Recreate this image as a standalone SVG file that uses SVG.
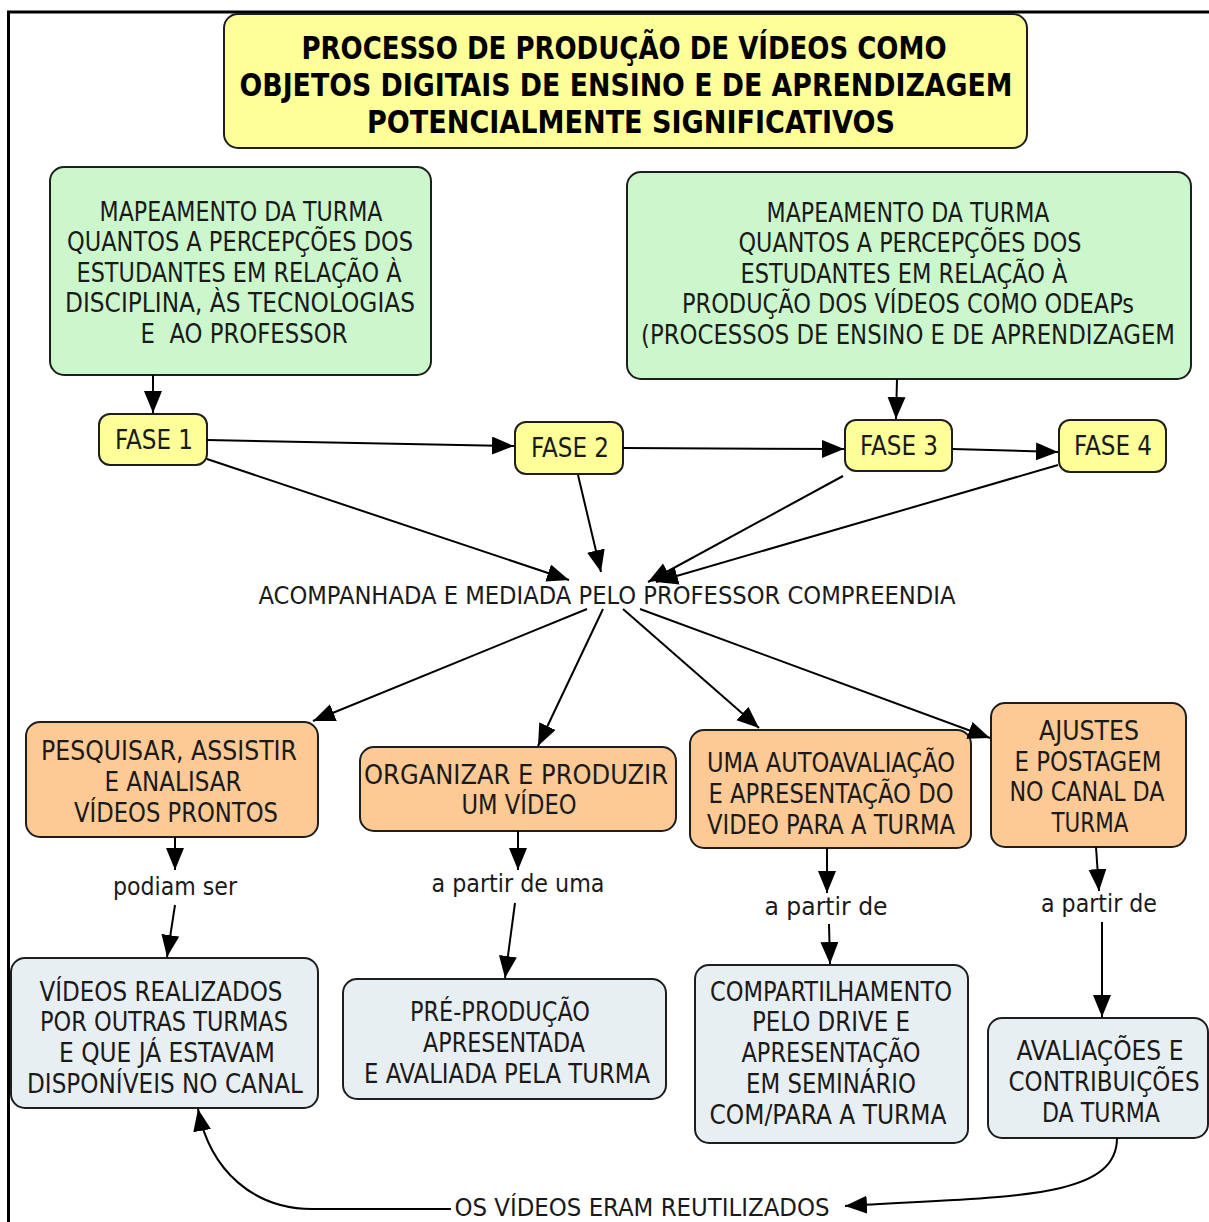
<svg xmlns="http://www.w3.org/2000/svg" width="1209" height="1222" viewBox="0 0 1209 1222">
<style>
  .box { stroke: #1e1e1e; stroke-width: 2; }
  .title { fill: #ffff99; }
  .green { fill: #ccf7cc; }
  .fase { fill: #ffff99; }
  .orange { fill: #fdc994; }
  .blue { fill: #e8eff2; }
  text { font-family: "DejaVu Sans Condensed", "DejaVu Sans", Verdana, sans-serif; fill: #1a1a1a; text-anchor: middle; }
  .t { font-size: 32px; font-weight: bold; fill: #000; }
  .n { font-size: 27px; }
  .f { font-size: 26px; }
  .l { font-size: 24px; }
  .c { stroke: #000; stroke-width: 2; fill: none; }
</style>
<defs>
  <marker id="arr" markerUnits="userSpaceOnUse" markerWidth="24" markerHeight="20" refX="22" refY="9" orient="auto">
    <path d="M0,0 L22,9 L0,18 z" fill="#000"/>
  </marker>
</defs>
<rect width="1209" height="1222" fill="#fff"/>
<path d="M8.5,1222 L8.5,12 L1209,12" fill="none" stroke="#000" stroke-width="3"/>

<g id="title">
  <rect class="box title" x="224" y="14" width="803" height="134" rx="14"/>
  <text class="t" x="624" y="59" textLength="645" lengthAdjust="spacingAndGlyphs">PROCESSO DE PRODUÇÃO DE VÍDEOS COMO</text>
  <text class="t" x="626" y="96" textLength="773" lengthAdjust="spacingAndGlyphs">OBJETOS DIGITAIS DE ENSINO E DE APRENDIZAGEM</text>
  <text class="t" x="631" y="133" textLength="528" lengthAdjust="spacingAndGlyphs">POTENCIALMENTE SIGNIFICATIVOS</text>
</g>

<g id="map1">
  <rect class="box green" x="50" y="167" width="381" height="208" rx="14"/>
  <text class="n" x="241" y="221" textLength="283" lengthAdjust="spacingAndGlyphs">MAPEAMENTO DA TURMA</text>
  <text class="n" x="240" y="251" textLength="346" lengthAdjust="spacingAndGlyphs">QUANTOS A PERCEPÇÕES DOS</text>
  <text class="n" x="239" y="282" textLength="325" lengthAdjust="spacingAndGlyphs">ESTUDANTES EM RELAÇÃO À</text>
  <text class="n" x="240" y="312" textLength="350" lengthAdjust="spacingAndGlyphs">DISCIPLINA, ÀS TECNOLOGIAS</text>
  <text class="n" x="244" y="343" textLength="207" lengthAdjust="spacingAndGlyphs" xml:space="preserve">E  AO PROFESSOR</text>
</g>

<g id="map2">
  <rect class="box green" x="627" y="172" width="564" height="207" rx="14"/>
  <text class="n" x="908" y="222" textLength="283" lengthAdjust="spacingAndGlyphs">MAPEAMENTO DA TURMA</text>
  <text class="n" x="910" y="252" textLength="343" lengthAdjust="spacingAndGlyphs">QUANTOS A PERCEPÇÕES DOS</text>
  <text class="n" x="904" y="283" textLength="327" lengthAdjust="spacingAndGlyphs">ESTUDANTES EM RELAÇÃO À</text>
  <text class="n" x="908" y="313" textLength="452" lengthAdjust="spacingAndGlyphs">PRODUÇÃO DOS VÍDEOS COMO ODEAPs</text>
  <text class="n" x="908" y="344" textLength="534" lengthAdjust="spacingAndGlyphs">(PROCESSOS DE ENSINO E DE APRENDIZAGEM</text>
</g>

<g id="fase1">
  <rect class="box fase" x="99" y="414" width="108" height="51" rx="11"/>
  <text class="f" x="154" y="449" textLength="78" lengthAdjust="spacingAndGlyphs">FASE 1</text>
</g>
<g id="fase2">
  <rect class="box fase" x="515" y="422" width="108" height="52" rx="11"/>
  <text class="f" x="570" y="457" textLength="78" lengthAdjust="spacingAndGlyphs">FASE 2</text>
</g>
<g id="fase3">
  <rect class="box fase" x="845" y="420" width="107" height="51" rx="11"/>
  <text class="f" x="899" y="455" textLength="78" lengthAdjust="spacingAndGlyphs">FASE 3</text>
</g>
<g id="fase4">
  <rect class="box fase" x="1059" y="420" width="107" height="52" rx="11"/>
  <text class="f" x="1113" y="455" textLength="78" lengthAdjust="spacingAndGlyphs">FASE 4</text>
</g>

<g id="center">
  <text class="l" x="607" y="604" textLength="697" lengthAdjust="spacingAndGlyphs">ACOMPANHADA E MEDIADA PELO PROFESSOR COMPREENDIA</text>
</g>

<g id="pesquisar">
  <rect class="box orange" x="26" y="722" width="292" height="115" rx="14"/>
  <text class="n" x="169" y="760" textLength="256" lengthAdjust="spacingAndGlyphs">PESQUISAR, ASSISTIR</text>
  <text class="n" x="173" y="791" textLength="137" lengthAdjust="spacingAndGlyphs">E ANALISAR</text>
  <text class="n" x="176" y="822" textLength="204" lengthAdjust="spacingAndGlyphs">VÍDEOS PRONTOS</text>
</g>

<g id="organizar">
  <rect class="box orange" x="360" y="747" width="316" height="84" rx="14"/>
  <text class="n" x="516" y="784" textLength="304" lengthAdjust="spacingAndGlyphs">ORGANIZAR E PRODUZIR</text>
  <text class="n" x="519" y="814" textLength="115" lengthAdjust="spacingAndGlyphs">UM VÍDEO</text>
</g>

<g id="autoavaliacao">
  <rect class="box orange" x="690" y="730" width="281" height="118" rx="14"/>
  <text class="n" x="831" y="772" textLength="248" lengthAdjust="spacingAndGlyphs">UMA AUTOAVALIAÇÃO</text>
  <text class="n" x="831" y="803" textLength="245" lengthAdjust="spacingAndGlyphs">E APRESENTAÇÃO DO</text>
  <text class="n" x="831" y="834" textLength="248" lengthAdjust="spacingAndGlyphs">VIDEO PARA A TURMA</text>
</g>

<g id="ajustes">
  <rect class="box orange" x="991" y="703" width="195" height="144" rx="14"/>
  <text class="n" x="1089" y="740" textLength="100" lengthAdjust="spacingAndGlyphs">AJUSTES</text>
  <text class="n" x="1088" y="771" textLength="147" lengthAdjust="spacingAndGlyphs">E POSTAGEM</text>
  <text class="n" x="1087" y="801" textLength="155" lengthAdjust="spacingAndGlyphs">NO CANAL DA</text>
  <text class="n" x="1090" y="832" textLength="77" lengthAdjust="spacingAndGlyphs">TURMA</text>
</g>

<g id="videos-realizados">
  <rect class="box blue" x="11" y="958" width="307" height="150" rx="14"/>
  <text class="n" x="161" y="1001" textLength="243" lengthAdjust="spacingAndGlyphs">VÍDEOS REALIZADOS</text>
  <text class="n" x="164" y="1031" textLength="248" lengthAdjust="spacingAndGlyphs">POR OUTRAS TURMAS</text>
  <text class="n" x="167" y="1062" textLength="216" lengthAdjust="spacingAndGlyphs">E QUE JÁ ESTAVAM</text>
  <text class="n" x="165" y="1093" textLength="276" lengthAdjust="spacingAndGlyphs">DISPONÍVEIS NO CANAL</text>
</g>

<g id="pre-producao">
  <rect class="box blue" x="343" y="979" width="323" height="120" rx="14"/>
  <text class="n" x="500" y="1021" textLength="180" lengthAdjust="spacingAndGlyphs">PRÉ-PRODUÇÃO</text>
  <text class="n" x="504" y="1052" textLength="162" lengthAdjust="spacingAndGlyphs">APRESENTADA</text>
  <text class="n" x="507" y="1083" textLength="286" lengthAdjust="spacingAndGlyphs">E AVALIADA PELA TURMA</text>
</g>

<g id="compartilhamento">
  <rect class="box blue" x="695" y="965" width="273" height="178" rx="14"/>
  <text class="n" x="831" y="1001" textLength="242" lengthAdjust="spacingAndGlyphs">COMPARTILHAMENTO</text>
  <text class="n" x="831" y="1031" textLength="158" lengthAdjust="spacingAndGlyphs">PELO DRIVE E</text>
  <text class="n" x="831" y="1062" textLength="179" lengthAdjust="spacingAndGlyphs">APRESENTAÇÃO</text>
  <text class="n" x="831" y="1093" textLength="170" lengthAdjust="spacingAndGlyphs">EM SEMINÁRIO</text>
  <text class="n" x="828" y="1124" textLength="237" lengthAdjust="spacingAndGlyphs">COM/PARA A TURMA</text>
</g>

<g id="avaliacoes">
  <rect class="box blue" x="988" y="1018" width="220" height="120" rx="14"/>
  <text class="n" x="1100" y="1060" textLength="167" lengthAdjust="spacingAndGlyphs">AVALIAÇÕES E</text>
  <text class="n" x="1104" y="1091" textLength="191" lengthAdjust="spacingAndGlyphs">CONTRIBUIÇÕES</text>
  <text class="n" x="1101" y="1122" textLength="118" lengthAdjust="spacingAndGlyphs">DA TURMA</text>
</g>

<g id="reutilizados">
  <text class="l" x="642" y="1216" textLength="375" lengthAdjust="spacingAndGlyphs">OS VÍDEOS ERAM REUTILIZADOS</text>
</g>

<g id="connectors">
  <line class="c" x1="153" y1="375" x2="153" y2="413" marker-end="url(#arr)"/>
  <line class="c" x1="897" y1="379" x2="896" y2="419" marker-end="url(#arr)"/>
  <line class="c" x1="207" y1="440" x2="514" y2="446" marker-end="url(#arr)"/>
  <line class="c" x1="623" y1="448" x2="844" y2="449" marker-end="url(#arr)"/>
  <line class="c" x1="952" y1="449" x2="1058" y2="452" marker-end="url(#arr)"/>
  <line class="c" x1="207" y1="459" x2="569" y2="580" marker-end="url(#arr)"/>
  <line class="c" x1="578" y1="475" x2="601" y2="572" marker-end="url(#arr)"/>
  <line class="c" x1="843" y1="476" x2="648" y2="582" marker-end="url(#arr)"/>
  <line class="c" x1="1058" y1="465" x2="656" y2="582" marker-end="url(#arr)"/>
  <line class="c" x1="587" y1="609" x2="313" y2="721" marker-end="url(#arr)"/>
  <line class="c" x1="603" y1="609" x2="538" y2="746" marker-end="url(#arr)"/>
  <line class="c" x1="623" y1="609" x2="759" y2="728" marker-end="url(#arr)"/>
  <line class="c" x1="640" y1="609" x2="990" y2="738" marker-end="url(#arr)"/>
  <line class="c" x1="175" y1="837" x2="175" y2="870" marker-end="url(#arr)"/>
  <line class="c" x1="175" y1="905" x2="167" y2="957" marker-end="url(#arr)"/>
  <line class="c" x1="518" y1="831" x2="518" y2="870" marker-end="url(#arr)"/>
  <line class="c" x1="515" y1="903" x2="505" y2="978" marker-end="url(#arr)"/>
  <line class="c" x1="827" y1="848" x2="827" y2="893" marker-end="url(#arr)"/>
  <line class="c" x1="829" y1="924" x2="830" y2="964" marker-end="url(#arr)"/>
  <line class="c" x1="1096" y1="847" x2="1099" y2="891" marker-end="url(#arr)"/>
  <line class="c" x1="1102" y1="922" x2="1102" y2="1017" marker-end="url(#arr)"/>
  <path class="c" d="M1117,1138 C1117,1200 1010,1196 845,1206" marker-end="url(#arr)"/>
  <path class="c" d="M451,1209 L312,1209 C255,1209 210,1172 198,1109" marker-end="url(#arr)"/>
  <text class="l" x="175" y="895" textLength="124" lengthAdjust="spacingAndGlyphs">podiam ser</text>
  <text class="l" x="518" y="892" textLength="173" lengthAdjust="spacingAndGlyphs">a partir de uma</text>
  <text class="l" x="826" y="915" textLength="123" lengthAdjust="spacingAndGlyphs">a partir de</text>
  <text class="l" x="1099" y="912" textLength="116" lengthAdjust="spacingAndGlyphs">a partir de</text>
</g>
</svg>
